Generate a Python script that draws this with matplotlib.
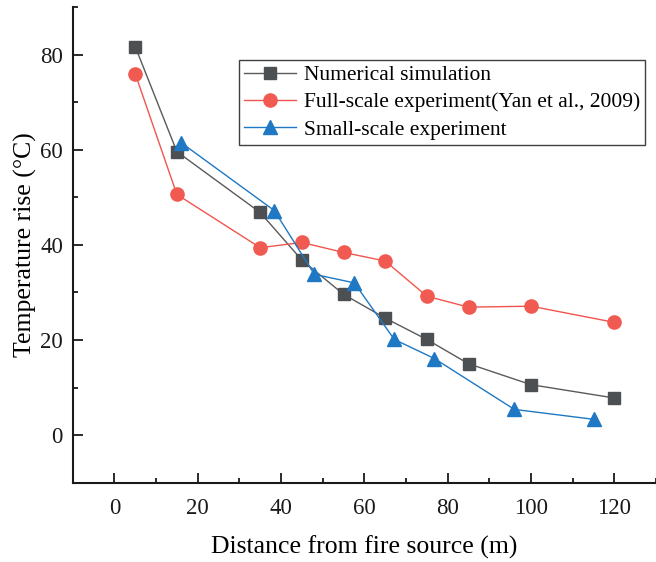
import matplotlib

matplotlib.use("Agg")
import matplotlib.pyplot as plt
from matplotlib.ticker import MultipleLocator

# --------------------------------------------------------------------------- #
# Data
# --------------------------------------------------------------------------- #
sim_x = [5, 15, 35, 45, 55, 65, 75, 85, 100, 120]
sim_y = [81.7, 59.6, 46.8, 36.8, 29.6, 24.6, 20.1, 15.0, 10.6, 7.8]

full_x = [5, 15, 35, 45, 55, 65, 75, 85, 100, 120]
full_y = [76.0, 50.6, 39.4, 40.5, 38.4, 36.6, 29.2, 26.9, 27.1, 23.7]

small_x = [16, 38.4, 48, 57.6, 67.2, 76.8, 96, 115.2]
small_y = [61.5, 47.2, 33.8, 32.0, 20.1, 16.1, 5.4, 3.3]

labels = [
    "Numerical simulation",
    "Full-scale experiment(Yan et al., 2009)",
    "Small-scale experiment",
]

plt.rcParams["font.family"] = ["Liberation Serif", "DejaVu Serif"]

fig = plt.figure(figsize=(6.56, 5.62), dpi=100)
ax = fig.add_axes([0.1108, 0.1412, 0.8892, 0.8463])

ax.plot(sim_x, sim_y, color="#5a5a5a", lw=1.0, marker="s", ms=8.5,
        mfc="#4d5052", mec="#4d5052", label=labels[0])
ax.plot(full_x, full_y, color="#f0564d", lw=1.0, marker="o", ms=9.5,
        mfc="#f05a50", mec="#f05a50", label=labels[1])
ax.plot(small_x, small_y, color="#1e78c4", lw=1.0, marker="^", ms=10.5,
        mfc="#1e78c4", mec="#1e78c4", label=labels[2])

ax.set_xlim(-10, 130)
ax.set_ylim(-10, 90)
ax.xaxis.set_minor_locator(MultipleLocator(10))
ax.yaxis.set_major_locator(MultipleLocator(20))
ax.yaxis.set_minor_locator(MultipleLocator(10))
ax.set_xticks([0, 20, 40, 60, 80, 100, 120])

for side in ("top", "right"):
    ax.spines[side].set_visible(False)
for side in ("left", "bottom"):
    ax.spines[side].set_linewidth(1.5)
    ax.spines[side].set_color("#1a1a1a")

ax.tick_params(which="major", direction="in", length=7, width=1.3,
               labelsize=16.5, colors="#1a1a1a")
ax.tick_params(which="minor", direction="in", length=3.5, width=1.3,
               colors="#1a1a1a")
ax.tick_params(axis="x", which="major", pad=11)
ax.tick_params(axis="y", which="major", pad=7)

ax.set_xlabel("Distance from fire source (m)", fontsize=18.5, labelpad=12)
ax.set_ylabel("Temperature rise (°C)", fontsize=18.5, labelpad=2)

leg = ax.legend(loc="upper left", bbox_to_anchor=(0.285, 0.889),
                borderaxespad=0, fontsize=15.5, fancybox=False,
                edgecolor="#404040", framealpha=1, handlelength=2.4,
                handletextpad=0.35, labelspacing=0.33, borderpad=0.25)
leg.get_frame().set_linewidth(1.0)

fig.savefig("out.png", dpi=100)
plt.close(fig)
